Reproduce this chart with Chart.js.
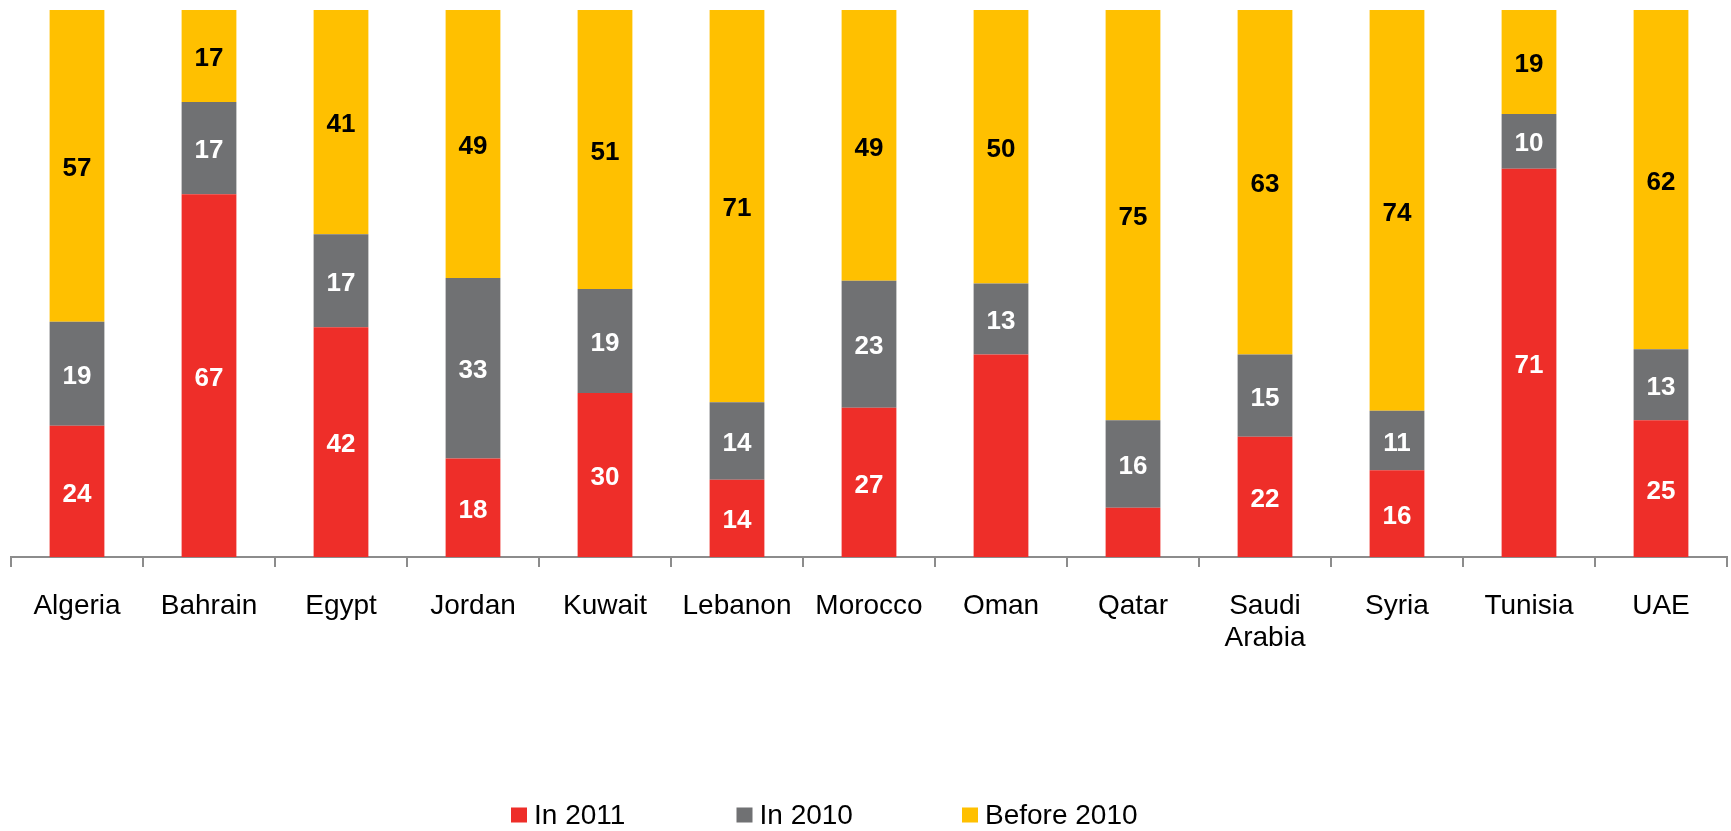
<!DOCTYPE html>
<html>
<head>
<meta charset="utf-8">
<script src="https://cdn.jsdelivr.net/npm/chart.js@4.4.1/dist/chart.umd.min.js"></script>
<style>
  html, body { margin: 0; padding: 0; background: #ffffff; }
  #wrap { width: 1731px; height: 831px; position: relative; }
</style>
</head>
<body>
<div id="wrap"><canvas id="c" width="1731" height="831"></canvas></div>
<script>
// ---- data ----
const categories = ['Algeria', 'Bahrain', 'Egypt', 'Jordan', 'Kuwait', 'Lebanon', 'Morocco',
                    'Oman', 'Qatar', ['Saudi', 'Arabia'], 'Syria', 'Tunisia', 'UAE'];
const seriesNames = ['In 2011', 'In 2010', 'Before 2010'];
const in2011     = [24, 67, 42, 18, 30, 14, 27, 37, 9, 22, 16, 71, 25];
const in2010     = [19, 17, 17, 33, 19, 14, 23, 13, 16, 15, 11, 10, 13];
const before2010 = [57, 17, 41, 49, 51, 71, 49, 50, 75, 63, 74, 19, 62];
// segments whose value label is not printed in the reference
const unlabelled2011 = [7, 8]; // Oman, Qatar

const colors = ['#EE2E29', '#707173', '#FFC000'];
const labelColors = ['#ffffff', '#ffffff', '#000000'];
const FONT = '"Liberation Sans", Arial, sans-serif';

// 100% stacked: each bar's segments as shares of that bar's total
const raw = [in2011, in2010, before2010];
const totals = categories.map((_, i) => raw.reduce((s, arr) => s + arr[i], 0));
const shares = raw.map(arr => arr.map((v, i) => v / totals[i] * 100));

const valueLabels = {
  id: 'valueLabels',
  afterDatasetsDraw(chart) {
    const ctx = chart.ctx;
    ctx.save();
    ctx.font = 'bold 26px ' + FONT;
    ctx.textAlign = 'center';
    ctx.textBaseline = 'middle';
    chart.data.datasets.forEach((ds, di) => {
      const meta = chart.getDatasetMeta(di);
      meta.data.forEach((bar, i) => {
        if (di === 0 && unlabelled2011.includes(i)) return;
        const yMid = (bar.y + bar.base) / 2;
        ctx.fillStyle = labelColors[di];
        ctx.fillText(String(raw[di][i]), bar.x, yMid + 3);
      });
    });
    ctx.restore();
  }
};

const customLegend = {
  id: 'customLegend',
  afterDraw(chart) {
    const ctx = chart.ctx;
    ctx.save();
    ctx.font = '28px ' + FONT;
    ctx.textBaseline = 'middle';
    ctx.textAlign = 'left';
    const startX = 511, slot = 225.5, cy = 815, box = 15, gap = 8;
    chart.data.datasets.forEach((ds, di) => {
      const x = startX + di * slot;
      ctx.fillStyle = ds.backgroundColor;
      ctx.fillRect(x, cy - box / 2, box + 1, box);
      ctx.fillStyle = '#000000';
      ctx.fillText(ds.label, x + box + gap, cy + 1);
    });
    ctx.restore();
  }
};

new Chart(document.getElementById('c'), {
  type: 'bar',
  data: {
    labels: categories,
    datasets: seriesNames.map((name, di) => ({
      label: name,
      data: shares[di],
      backgroundColor: colors[di],
      borderWidth: 0,
      barPercentage: 0.415,
      categoryPercentage: 1.0
    }))
  },
  options: {
    responsive: false,
    animation: false,
    events: [],
    layout: { padding: { left: 11, right: 4, top: 10, bottom: 0 } },
    plugins: { legend: { display: false }, tooltip: { enabled: false } },
    scales: {
      x: {
        stacked: true,
        afterFit(scale) { scale.height = 831 - 557; },
        grid: {
          display: true,
          offset: true,
          drawOnChartArea: false,
          drawTicks: true,
          tickLength: 10,
          color: '#8C8C8C',
          lineWidth: 2
        },
        border: { display: true, color: '#8C8C8C', width: 2 },
        ticks: {
          color: '#000000',
          font: { family: FONT, size: 28, lineHeight: 1.15 },
          padding: 23,
          maxRotation: 0,
          autoSkip: false
        }
      },
      y: {
        stacked: true,
        display: false,
        min: 0,
        max: 100
      }
    }
  },
  plugins: [valueLabels, customLegend]
});
</script>
</body>
</html>
